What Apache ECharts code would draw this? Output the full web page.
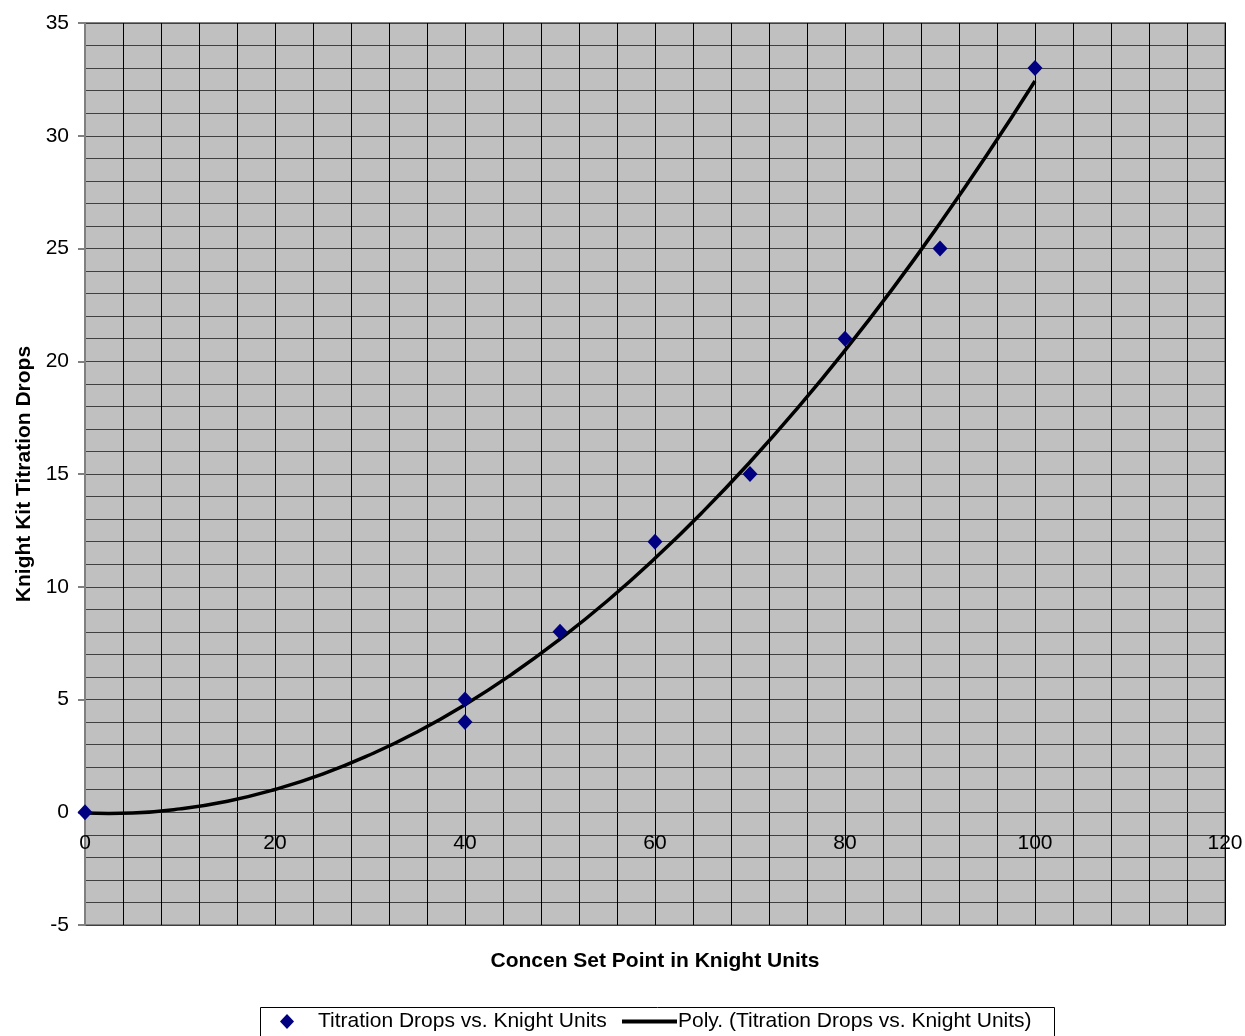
<!DOCTYPE html>
<html>
<head>
<meta charset="utf-8">
<script src="https://cdn.jsdelivr.net/npm/echarts@6/dist/echarts.min.js"></script>
<style>
html,body{margin:0;padding:0;background:#fff;}
#c{width:1245px;height:1036px;}
</style>
</head>
<body>
<div id="c"></div>
<script>
// Measured data points
const pointX = [0, 40, 40, 50, 60, 70, 80, 90, 100];
const pointY = [0, 5, 4, 8, 12, 15, 21, 25, 33];
// Trendline values
const trendX = [0, 2.5, 5, 10, 15, 20, 25, 30, 35, 40, 45, 50, 55, 60, 65, 70, 75, 80, 85, 90, 95, 100];
const trendY = [-0.03, -0.05, -0.03, 0.15, 0.49, 1.01, 1.69, 2.55, 3.57, 4.77, 6.14, 7.68, 9.38, 11.26, 13.31, 15.53, 17.92, 20.48, 23.21, 26.12, 29.19, 32.43];
const xTicks = [0, 20, 40, 60, 80, 100, 120];
const yTicks = [-5, 0, 5, 10, 15, 20, 25, 30, 35];

const seriesNames = ['Titration Drops vs. Knight Units', 'Poly. (Titration Drops vs. Knight Units)'];
const font = 'Liberation Sans, Arial, sans-serif';

const gridTop = 23, gridBottom = 111, chartH = 1036;
const plotH = chartH - gridTop - gridBottom;
const yMin = yTicks[0], yMax = yTicks[yTicks.length - 1];
// shift the bottom x axis up so it sits on y = 0 (where the value axis crosses)
const zeroOffset = -plotH * (0 - yMin) / (yMax - yMin);

const chart = echarts.init(document.getElementById('c'), null, {renderer: 'canvas'});
chart.setOption({
  animation: false,
  backgroundColor: '#ffffff',
  textStyle: {fontFamily: font},
  grid: {
    left: 85, right: 20, top: gridTop, bottom: gridBottom,
    show: true, backgroundColor: '#C0C0C0', borderColor: '#808080', borderWidth: 2,
    containLabel: false,
    outerBoundsMode: 'none'
  },
  xAxis: {
    type: 'value',
    position: 'bottom',
    offset: zeroOffset,
    min: xTicks[0], max: xTicks[xTicks.length - 1], interval: 20,
    name: 'Concen Set Point in Knight Units',
    nameLocation: 'middle', nameGap: 138,
    nameTextStyle: {fontSize: 21, fontWeight: 'bold', color: '#000', fontFamily: font},
    axisLine: {show: true, onZero: false, lineStyle: {color: '#404040', width: 1}},
    axisTick: {show: true, inside: true, length: 6, lineStyle: {color: '#000'}},
    axisLabel: {fontSize: 21, color: '#000', margin: 20, fontFamily: font},
    splitLine: {show: true, lineStyle: {color: '#000', width: 1}},
    minorTick: {show: false, splitNumber: 5},
    minorSplitLine: {show: true, lineStyle: {color: '#000', width: 1}}
  },
  yAxis: {
    type: 'value',
    min: yMin, max: yMax, interval: 5,
    name: 'Knight Kit Titration Drops',
    nameLocation: 'middle', nameGap: 50,
    nameTextStyle: {fontSize: 21, fontWeight: 'bold', color: '#000', fontFamily: font},
    axisLine: {show: true, onZero: false, lineStyle: {color: '#808080', width: 2}},
    axisTick: {show: true, inside: false, length: 7, lineStyle: {color: '#808080', width: 2}},
    axisLabel: {fontSize: 21, color: '#000', margin: 16, fontFamily: font},
    splitLine: {show: true, lineStyle: {color: '#404040', width: 1}},
    minorTick: {show: false, splitNumber: 5},
    minorSplitLine: {show: true, lineStyle: {color: '#404040', width: 1}}
  },
  legend: [
    {
      data: [{name: seriesNames[0], icon: 'diamond'}],
      left: 275, top: 1006,
      itemWidth: 14, itemHeight: 15,
      textStyle: {fontSize: 21, color: '#000', fontFamily: font, padding: [0, 0, 0, 19]},
      selectedMode: false
    },
    {
      data: [{name: seriesNames[1], icon: 'rect'}],
      left: 617, top: 1006,
      itemWidth: 55, itemHeight: 4,
      textStyle: {fontSize: 21, color: '#000', fontFamily: font, padding: [0, 0, 0, -4]},
      selectedMode: false
    }
  ],
  graphic: [{
    type: 'rect', left: 258, top: 1005, z: 100, silent: true,
    shape: {width: 794, height: 40},
    style: {fill: 'none', stroke: '#000', lineWidth: 1}
  }],
  series: [
    {
      name: seriesNames[1],
      type: 'line',
      data: trendX.map((x, i) => [x, trendY[i]]),
      smooth: true,
      showSymbol: false,
      symbol: 'none',
      lineStyle: {color: '#000', width: 3.5},
      itemStyle: {color: '#000'},
      z: 3
    },
    {
      name: seriesNames[0],
      type: 'scatter',
      data: pointX.map((x, i) => [x, pointY[i]]),
      symbol: 'diamond',
      symbolSize: [15, 16],
      itemStyle: {color: '#000080', opacity: 1},
      z: 4
    }
  ]
});
</script>
</body>
</html>
